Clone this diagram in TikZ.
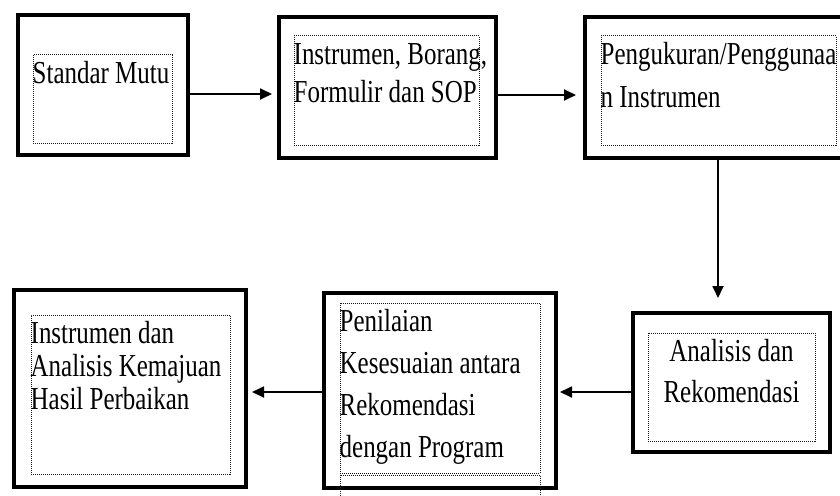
\documentclass[tikz,border=0pt]{standalone}
\usepackage{fontspec}
\setmainfont[FakeStretch=0.78]{Liberation Serif}
\usetikzlibrary{arrows.meta,positioning}
\newcommand{\TopStrut}{\rule{0pt}{29pt}}

\begin{document}
\begin{tikzpicture}[x=1pt,y=-1pt,
  stage/.style={draw,line width=4pt,inner sep=0pt},
  frame/.style={draw=black!90,line width=1pt,dash pattern=on 1pt off 1pt,inner sep=0pt},
  txt/.style={inner sep=0pt,align=left,anchor=north west,font=\fontsize{32pt}{41pt}\selectfont},
  flow/.style={line width=1.8pt,-{Triangle[length=12pt,width=11pt]}}]
\fill[white] (0,0) rectangle (840,495);
\useasboundingbox (0,0) rectangle (840,495);
% outer boxes
\node[stage,minimum width=170pt,minimum height=140pt] (mutu) at (103,85) {};
\node[stage,minimum width=217pt,minimum height=141pt] (instr) at (387.5,87.5) {};
\node[stage,minimum width=271pt,minimum height=141pt] (ukur) at (720.5,87.5) {};
\node[stage,minimum width=197pt,minimum height=139pt] (analisis) at (731.5,382.5) {};
\node[stage,minimum width=232pt,minimum height=195pt] (nilai) at (440,390.5) {};
\node[stage,minimum width=232pt,minimum height=197pt] (kemajuan) at (130,388.5) {};
% dotted text frames
\node[frame,minimum width=139pt,minimum height=88pt] (mutuF) at (102.5,99) {};
\node[frame,minimum width=185pt,minimum height=109pt] (instrF) at (386.5,90.5) {};
\node[frame,minimum width=235pt,minimum height=109pt] (ukurF) at (718.5,90.5) {};
\node[frame,minimum width=167pt,minimum height=108pt] (analisisF) at (731.5,387) {};
\node[frame,minimum width=200pt,minimum height=170pt] (nilaiF) at (440,388) {};
\node[frame,minimum width=200pt,minimum height=50pt] (nilaiG) at (440,500) {};
\node[frame,minimum width=199pt,minimum height=159pt] (kemajuanF) at (130.5,394.5) {};
% texts
\node[txt] (mutuT) at (mutuF.north west) {\TopStrut Standar Mutu};
\node[txt,font=\fontsize{32pt}{38pt}\selectfont] (instrT) at (instrF.north west) {\TopStrut Instrumen, Borang,\\Formulir dan SOP};
\node[txt,font=\fontsize{32pt}{43pt}\selectfont] (ukurT) at (ukurF.north west) {\TopStrut Pengukuran/Penggunaa\\n Instrumen};
\node[txt,align=center,anchor=north] (analisisT) at (analisisF.north) {\TopStrut Analisis dan\\Rekomendasi};
\node[txt,font=\fontsize{32pt}{42pt}\selectfont] (nilaiT) at (nilaiF.north west) {\TopStrut Penilaian\\Kesesuaian antara\\Rekomendasi\\dengan Program};
\node[txt,font=\fontsize{32pt}{33pt}\selectfont] (kemajuanT) at (kemajuanF.north west) {\TopStrut Instrumen dan\\Analisis Kemajuan\\Hasil Perbaikan};
% connectors
\draw[flow] ([yshift=-9pt]mutu.east) -- ([yshift=-6.5pt,xshift=-5pt]instr.west);
\draw[flow] ([yshift=-7.5pt]instr.east) -- ([yshift=-7.5pt,xshift=-7pt]ukur.west);
\draw[flow] ([xshift=-2.5pt]ukur.south) -- ([xshift=-13.5pt,yshift=13pt]analisis.north);
\draw[flow] ([yshift=-9.5pt]analisis.west) -- ([yshift=-1.5pt,xshift=2pt]nilai.east);
\draw[flow] ([yshift=-1.5pt]nilai.west) -- ([yshift=-3.5pt,xshift=4pt]kemajuan.east);
\end{tikzpicture}
\end{document}
